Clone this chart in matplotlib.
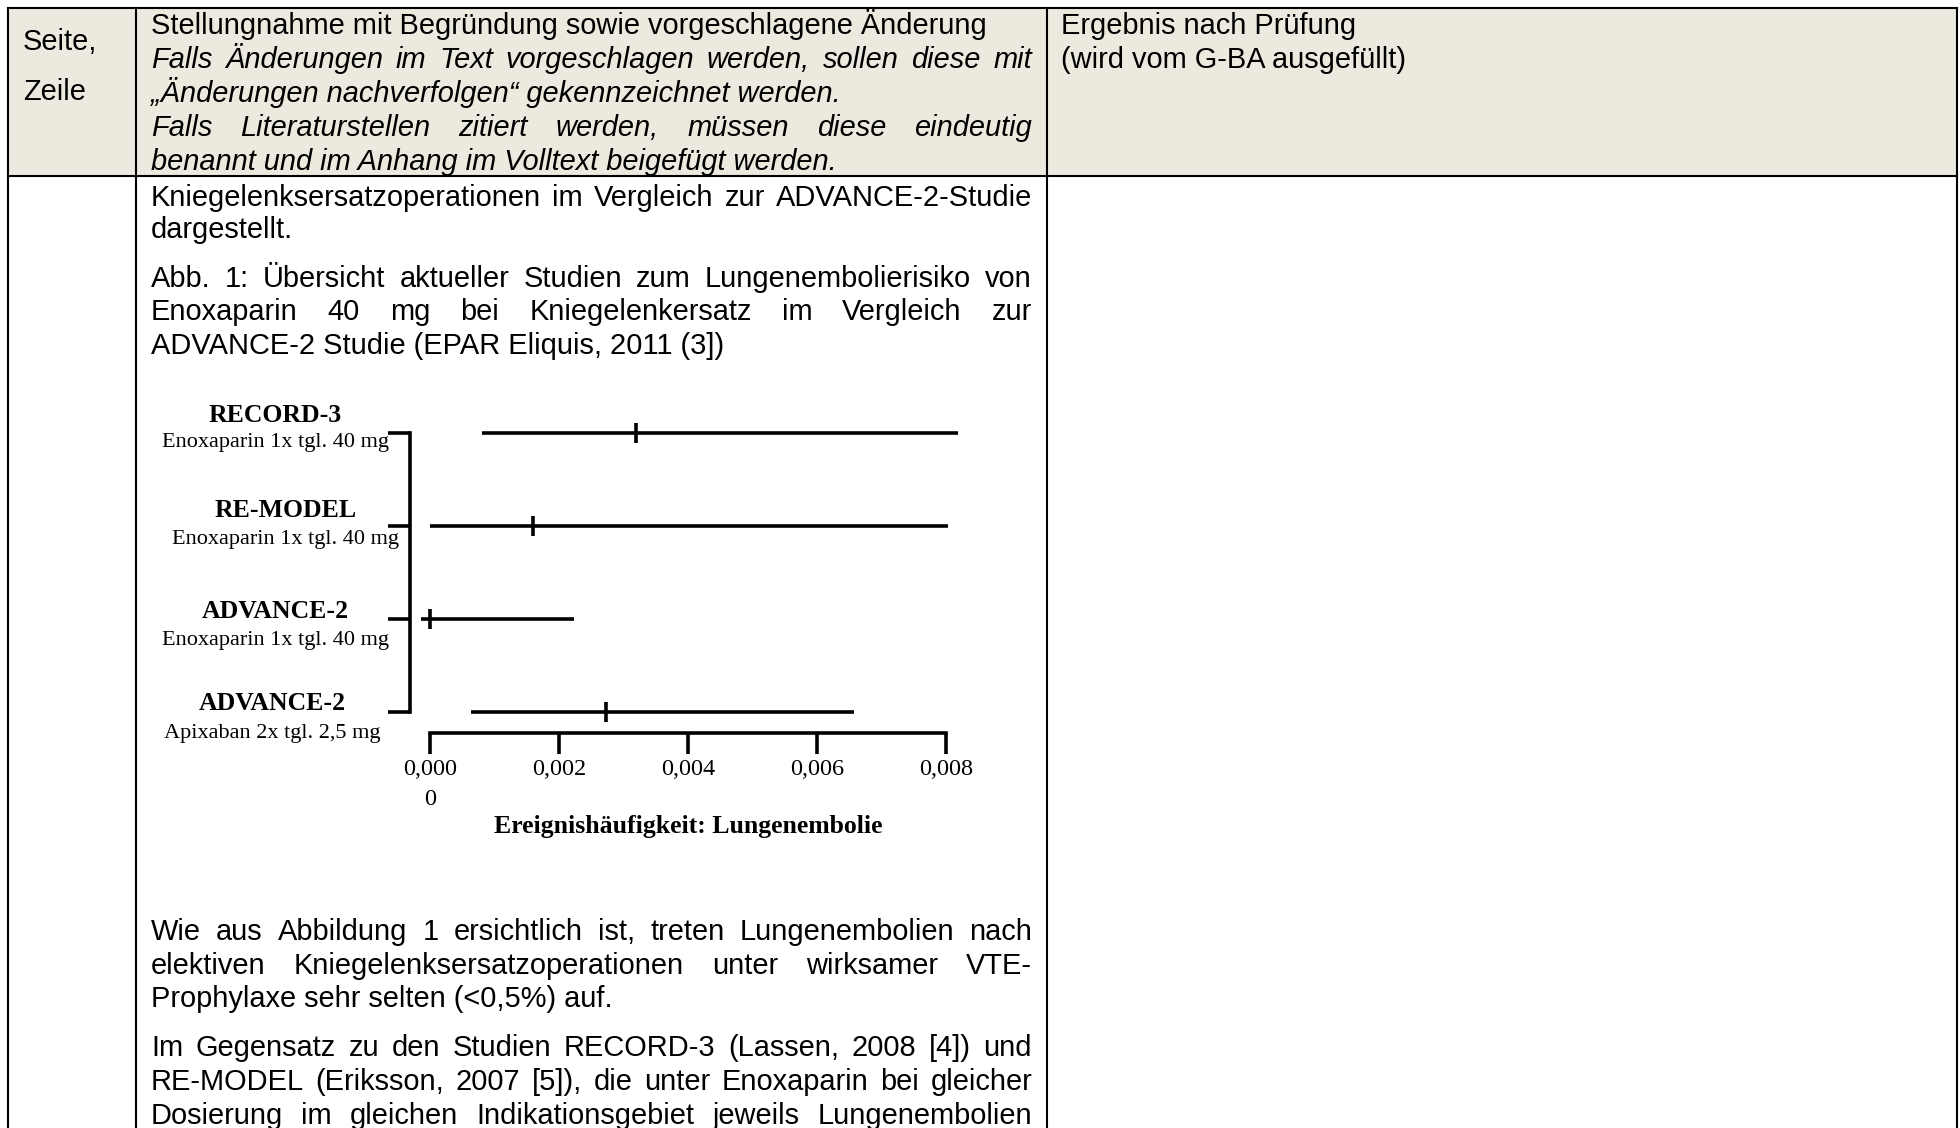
import matplotlib
matplotlib.use("Agg")
import matplotlib.pyplot as plt
from matplotlib.patches import Rectangle
from matplotlib.transforms import blended_transform_factory

# ---------------- data ----------------
studies = ["RECORD-3", "RE-MODEL", "ADVANCE-2", "ADVANCE-2"]
regimens = ["Enoxaparin 1x tgl. 40 mg", "Enoxaparin 1x tgl. 40 mg",
            "Enoxaparin 1x tgl. 40 mg", "Apixaban 2x tgl. 2,5 mg"]
event_rate = [0.00320, 0.00160, 0.00000, 0.00273]
ci_lower = [0.00081, 0.00000, -0.00014, 0.00064]
ci_upper = [0.00818, 0.00803, 0.00223, 0.00657]
x_ticks = [0.000, 0.002, 0.004, 0.006, 0.008]
x_tick_labels = ["0,000\n0", "0,002", "0,004", "0,006", "0,008"]
x_label = "Ereignishäufigkeit: Lungenembolie"

header_col1 = ["Seite,", "Zeile"]
header_col2 = [("Stellungnahme mit Begründung sowie vorgeschlagene Änderung", False, False),
               ("Falls Änderungen im Text vorgeschlagen werden, sollen diese mit", True, True),
               ("„Änderungen nachverfolgen“ gekennzeichnet werden.", True, False),
               ("Falls Literaturstellen zitiert werden, müssen diese eindeutig", True, True),
               ("benannt und im Anhang im Volltext beigefügt werden.", True, False)]
header_col3 = ["Ergebnis nach Prüfung", "(wird vom G-BA ausgefüllt)"]

body_top = [("Kniegelenksersatzoperationen im Vergleich zur ADVANCE-2-Studie", True),
            ("dargestellt.", False),
            ("Abb. 1: Übersicht aktueller Studien zum Lungenembolierisiko von", True),
            ("Enoxaparin 40 mg bei Kniegelenkersatz im Vergleich zur", True),
            ("ADVANCE-2 Studie (EPAR Eliquis, 2011 (3])", False)]
body_bottom = [("Wie aus Abbildung 1 ersichtlich ist, treten Lungenembolien nach", True),
               ("elektiven Kniegelenksersatzoperationen unter wirksamer VTE-", True),
               ("Prophylaxe sehr selten (<0,5%) auf.", False),
               ("Im Gegensatz zu den Studien RECORD-3 (Lassen, 2008 [4]) und", True),
               ("RE-MODEL (Eriksson, 2007 [5]), die unter Enoxaparin bei gleicher", True),
               ("Dosierung im gleichen Indikationsgebiet jeweils Lungenembolien", True)]

# ---------------- layout ----------------
W, H, DPI = 1960, 1128, 100
SANS = "Liberation Sans"
SERIF = "Liberation Serif"
FS = 20.9
fig = plt.figure(figsize=(W / DPI, H / DPI), dpi=DPI)
bg = fig.add_axes([0, 0, 1, 1])
bg.set_xlim(0, W)
bg.set_ylim(H, 0)
bg.axis("off")
renderer = fig.canvas.get_renderer()

L, R, T, HB = 8, 1957, 8, 176
C1, C2 = 136, 1047
bg.add_patch(Rectangle((L, T), R - L, HB - T, facecolor="#ECE9DE", edgecolor="none"))
blw = 1.5
for xs, ys in [([L, R], [T, T]), ([L, R], [HB, HB]), ([L, L], [T, H]),
               ([R, R], [T, H]), ([C1, C1], [T, H]), ([C2, C2], [T, H])]:
    bg.plot(xs, ys, color="black", lw=blw, solid_capstyle="projecting")

TX0, TX1, TX3 = 151, 1032, 1061


def put_line(text, y, justify, italic=False, x0=TX0, x1=TX1):
    style = "italic" if italic else "normal"
    if not justify:
        bg.text(x0, y, text, va="baseline", ha="left", fontsize=FS,
                family=SANS, style=style)
        return
    words = text.split(" ")
    arts = [bg.text(x0, y, w, va="baseline", ha="left", fontsize=FS,
                    family=SANS, style=style) for w in words]
    widths = [a.get_window_extent(renderer).width for a in arts]
    gap = (x1 - x0 - sum(widths)) / max(len(words) - 1, 1)
    x = x0
    for a, w in zip(arts, widths):
        a.set_x(x)
        x += w + gap


for txt, y in zip(header_col1, [50.5, 99.5]):
    bg.text(23, y, txt, va="baseline", ha="left", fontsize=FS, family=SANS)
for (txt, it, js), y in zip(header_col2, [34.5, 68, 102, 135.5, 169.5]):
    put_line(txt, y, js, italic=it)
for txt, y in zip(header_col3, [34.5, 68]):
    bg.text(TX3, y, txt, va="baseline", ha="left", fontsize=FS, family=SANS)
for (txt, js), y in zip(body_top, [205.5, 238.5, 287, 320.5, 354.5]):
    put_line(txt, y, js)
for (txt, js), y in zip(body_bottom, [939.5, 973.5, 1007, 1055.5, 1089.5, 1123.5]):
    put_line(txt, y, js)

# ---------------- forest plot ----------------
ax_left_px, ax_right_px, ax_top_px, ax_bot_px = 410, 985, 395, 732.5
x0_px, x8_px = 430, 946
row0_px, row_step = 432.5, 93
ax = fig.add_axes([ax_left_px / W, (H - ax_bot_px) / H,
                   (ax_right_px - ax_left_px) / W, (ax_bot_px - ax_top_px) / H])
ax.patch.set_alpha(0)
ppu = (x8_px - x0_px) / (x_ticks[-1] - x_ticks[0])
ax.set_xlim(x_ticks[0] + (ax_left_px - x0_px) / ppu, x_ticks[0] + (ax_right_px - x0_px) / ppu)
ax.set_ylim((ax_bot_px - row0_px) / row_step, (ax_top_px - row0_px) / row_step)

rows = list(range(len(studies)))
lw = 2.6
ax.hlines(rows, ci_lower, ci_upper, color="black", lw=lw, clip_on=False)
ax.plot(event_rate, rows, ls="none", marker="|", ms=15, mew=lw, color="black", clip_on=False)

for s in ["top", "right"]:
    ax.spines[s].set_visible(False)
ax.spines["left"].set_bounds(rows[0], rows[-1])
ax.spines["bottom"].set_bounds(x_ticks[0], x_ticks[-1])
for s in ["left", "bottom"]:
    ax.spines[s].set_linewidth(lw)
ax.set_yticks(rows)
ax.tick_params(axis="y", direction="out", length=15.5, width=lw, labelleft=False)
ax.set_xticks(x_ticks)
ax.set_xticklabels(x_tick_labels, family=SERIF, fontsize=17.5)
for lbl in ax.get_xticklabels():
    lbl.set_linespacing(1.55)
ax.tick_params(axis="x", direction="out", length=15, width=lw, pad=4)

ax.set_xlabel(x_label, family=SERIF, fontsize=18.5, fontweight="bold")
ax.xaxis.set_label_coords((x_ticks[0] + x_ticks[-1]) / 2, (ax_bot_px - 827) / (ax_bot_px - ax_top_px),
                          transform=blended_transform_factory(ax.transData, ax.transAxes))
ax.xaxis.label.set_va("center")

label_x_px = [275, 286, 275, 272]
title_dy_px = [-17.5, -15, -7.5, -8.5]
sub_dy_px = [10, 14, 21.5, 21.5]
ytrans = ax.get_yaxis_transform()
for i, (st, rg) in enumerate(zip(studies, regimens)):
    xf = (label_x_px[i] - ax_left_px) / (ax_right_px - ax_left_px)
    ax.annotate(st, xy=(xf, rows[i]), xycoords=ytrans, xytext=(0, -title_dy_px[i] * 72 / DPI),
                textcoords="offset points", ha="center", va="center", family=SERIF,
                fontsize=18.5, fontweight="bold", annotation_clip=False)
    ax.annotate(rg, xy=(xf, rows[i]), xycoords=ytrans, xytext=(0, -sub_dy_px[i] * 72 / DPI),
                textcoords="offset points", ha="center", va="center", family=SERIF,
                fontsize=16, annotation_clip=False)

fig.savefig("out.png", dpi=DPI)
